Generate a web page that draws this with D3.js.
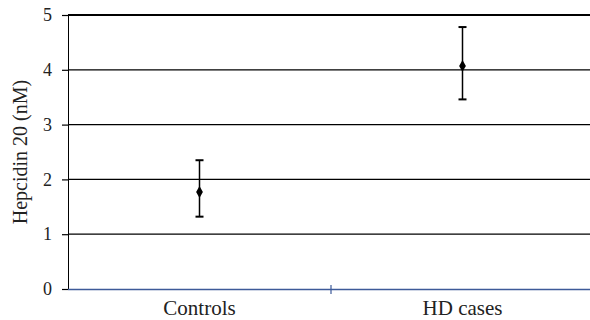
<!DOCTYPE html>
<html>
<head>
<meta charset="utf-8">
<script src="https://cdn.jsdelivr.net/npm/d3@7"></script>
<style>
  html, body { margin: 0; padding: 0; background: #fff; }
</style>
</head>
<body>
<div id="chart"></div>
<script>
// data
const groups = ["Controls", "HD cases"];
const means = [1.77, 4.07];
const upper = [2.35, 4.78];
const lower = [1.32, 3.46];
const yTicks = [0, 1, 2, 3, 4, 5];

const serif = "'Liberation Serif', 'Times New Roman', Times, 'DejaVu Serif', serif";

const width = 590, height = 320;
const margin = { top: 15, right: -4, bottom: 31, left: 68 };

const svg = d3.select("#chart").append("svg")
    .attr("width", width)
    .attr("height", height);

const x = d3.scaleBand()
    .domain(groups)
    .range([margin.left, width - margin.right])
    .padding(0);

const y = d3.scaleLinear()
    .domain([0, 5])
    .range([height - margin.bottom, margin.top]);

// gridlines
svg.append("g")
    .selectAll("line")
    .data(yTicks.filter(d => d > 0))
    .enter()
    .append("line")
    .attr("x1", margin.left)
    .attr("x2", width)
    .attr("y1", d => y(d))
    .attr("y2", d => y(d))
    .attr("stroke", "#000")
    .attr("stroke-width", d => d === 5 ? 2 : 1.2);

// y axis
const yAxis = svg.append("g")
    .attr("transform", `translate(${margin.left},0)`)
    .call(d3.axisLeft(y).tickValues(yTicks).tickSize(6).tickPadding(10).tickFormat(d3.format("d")));
yAxis.attr("font-family", null).attr("font-size", null);
yAxis.select(".domain").attr("stroke", "#000").attr("stroke-width", 1);
yAxis.selectAll(".tick line").attr("stroke", "#000").attr("stroke-width", 1.2);
yAxis.selectAll("text")
    .style("font-family", serif)
    .style("font-size", "18px")
    .attr("fill", "#222");

// x axis
const xAxis = svg.append("g")
    .attr("transform", `translate(0,${y(0)})`);
xAxis.append("line")
    .attr("x1", margin.left)
    .attr("x2", width)
    .attr("y1", 0.5).attr("y2", 0.5)
    .attr("stroke", "#3d5a99")
    .attr("stroke-width", 1.6);
xAxis.append("line")
    .attr("x1", x("HD cases"))
    .attr("x2", x("HD cases"))
    .attr("y1", -4).attr("y2", 5)
    .attr("stroke", "#3d5a99")
    .attr("stroke-width", 1.2);
xAxis.selectAll("text")
    .data(groups)
    .enter()
    .append("text")
    .attr("x", d => x(d) + x.bandwidth() / 2)
    .attr("y", 26)
    .attr("text-anchor", "middle")
    .attr("fill", "#222")
    .style("font-family", serif)
    .style("font-size", "21px")
    .text(d => d);

// y label
svg.append("text")
    .attr("transform", `translate(27,${(y(0) + y(5)) / 2}) rotate(-90)`)
    .attr("text-anchor", "middle")
    .attr("fill", "#222")
    .style("font-family", serif)
    .style("font-size", "20px")
    .text("Hepcidin 20 (nM)");

// error bars
const cx = d => x(d) + x.bandwidth() / 2;
const bars = svg.append("g");
groups.forEach((g, i) => {
    bars.append("line")
        .attr("x1", cx(g)).attr("x2", cx(g))
        .attr("y1", y(upper[i])).attr("y2", y(lower[i]))
        .attr("stroke", "#000").attr("stroke-width", 1.5);
    [upper[i], lower[i]].forEach(v => {
        bars.append("line")
            .attr("x1", cx(g) - 4).attr("x2", cx(g) + 4)
            .attr("y1", y(v)).attr("y2", y(v))
            .attr("stroke", "#000").attr("stroke-width", 2);
    });
    bars.append("path")
        .attr("d", d3.symbol().type(d3.symbolDiamond).size(40)())
        .attr("transform", `translate(${cx(g)},${y(means[i])})`)
        .attr("fill", "#000");
});
</script>
</body>
</html>
